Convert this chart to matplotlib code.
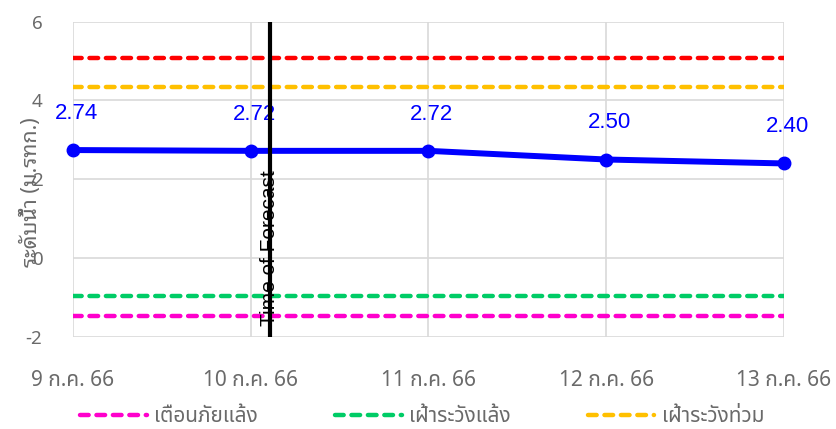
import matplotlib
matplotlib.use("Agg")
import matplotlib.pyplot as plt
from matplotlib.lines import Line2D

# data
dates = ["9 ก.ค. 66", "10 ก.ค. 66", "11 ก.ค. 66", "12 ก.ค. 66", "13 ก.ค. 66"]
levels = [2.74, 2.72, 2.72, 2.50, 2.40]
crit_level = 5.08        # red line
flood_watch = 4.34       # orange line
drought_watch = -0.97    # green line
drought_warn = -1.47     # magenta line
forecast_time = 1.11     # days after 9 ก.ค.
yticks = [-2, 0, 2, 4, 6]
legend_names = ["เตือนภัยแล้ง", "เฝ้าระวังแล้ง", "เฝ้าระวังท่วม"]
legend_colors = ["#ff00cc", "#00cc66", "#ffc000"]

THAI = ["Noto Sans Thai", "DejaVu Sans"]
THAI_LOOP = ["Noto Sans Thai Looped", "Noto Sans Thai", "DejaVu Sans"]
plt.rcParams["font.family"] = ["Liberation Sans", "Noto Sans Thai", "DejaVu Sans"]

fig = plt.figure(figsize=(8.36, 4.29), dpi=100)
ax = fig.add_axes([0.0873, 0.2152, 0.8505, 0.7342])

x = list(range(len(dates)))
gray = "#6a6a6a"
for s in ax.spines.values():
    s.set_visible(False)
ax.set_axisbelow(True)
ax.grid(True, color="#d9d9d9", linewidth=1.2)
ax.tick_params(length=0, colors=gray)

LW = 3.2
DASH = (1.95, 1.75)

def hline(y, color):
    ax.axhline(y, color=color, linewidth=LW, dashes=DASH, dash_capstyle="round")

hline(crit_level, "#ff0000")
hline(flood_watch, "#ffc000")
hline(drought_watch, "#00cc66")
hline(drought_warn, "#ff00cc")

ax.plot(x, levels, color="#0000ff", linewidth=4.3, marker="o", markersize=9,
        solid_capstyle="round", solid_joinstyle="round", clip_on=False, zorder=4)
for xi, v in zip(x, levels):
    ax.annotate(f"{v:.2f}", (xi, v), xytext=(2.5, 26.5), textcoords="offset points",
                ha="center", va="center", color="#0000ff", fontsize=16, zorder=5)

ax.axvline(forecast_time, color="black", linewidth=3, zorder=6)
ax.text(forecast_time - 0.005, -1.72, "Time of Forecast", rotation=90, ha="center",
        va="bottom", fontsize=15, color="black", zorder=7)

ax.set_xlim(0, 4)
ax.set_ylim(-2, 6)
ax.set_yticks(yticks)
ax.set_yticklabels([str(t) for t in yticks], family=THAI, fontsize=13.5)
ax.set_xticks(x)
ax.set_xticklabels(dates, family=THAI, fontsize=15)
ax.tick_params(axis="y", pad=22)
ax.tick_params(axis="x", pad=24)
ax.set_ylabel("ระดับน้ำ (ม.รทก.)", family=THAI_LOOP, fontsize=15.5, color=gray)
ax.yaxis.set_label_coords(-0.044, 0.46)

handles = [Line2D([], [], color=c, linewidth=LW, dashes=DASH, dash_capstyle="round")
           for c in legend_colors]
fig.legend(handles, legend_names, loc="center", bbox_to_anchor=(0.505, 0.028),
           ncol=3, frameon=False, handlelength=3.2, handletextpad=0.35,
           columnspacing=3.7, prop={"family": THAI, "size": 15},
           labelcolor=gray)

fig.savefig("out.png", dpi=100)
